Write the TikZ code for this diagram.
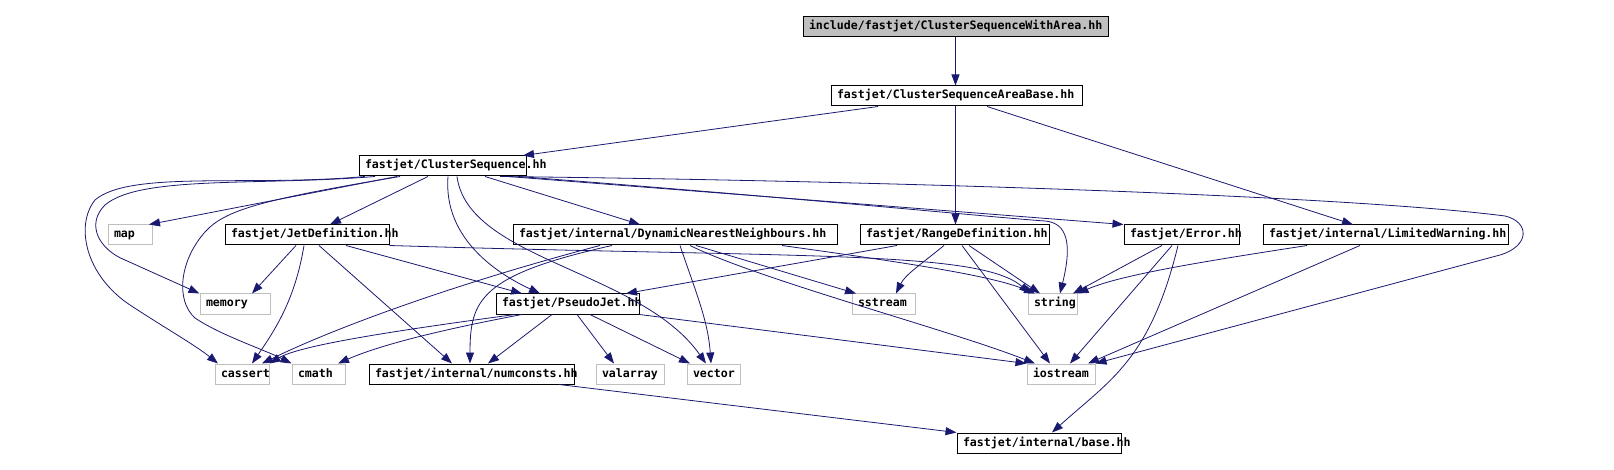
\documentclass[tikz,border=0pt]{standalone}
\usepackage{fontspec}
\usetikzlibrary{arrows.meta}
\newfontfamily\fjmono{DejaVu Sans Mono}
\definecolor{edgeblue}{HTML}{191970}
\definecolor{sysgray}{HTML}{BFBFBF}
\newcommand\fjbox[5]{\node[#1, minimum width=#3pt] (#2) at (#4) {\makebox[\dimexpr#3pt-12pt\relax][l]{#5}};}
\tikzset{
  fj/.style={draw=black, line width=1pt, minimum height=20pt, inner xsep=6pt, inner ysep=0pt,
    text height=8.5pt, text depth=2.5pt, font=\fjmono\bfseries\fontsize{11.6pt}{13pt}\selectfont, anchor=center},
  sys/.style={fj, draw=sysgray},
  root/.style={fj, fill=sysgray},
  dep/.style={draw=edgeblue, line width=0.8pt, -{Triangle[length=11pt,width=8pt]}},
}
\begin{document}
\begin{tikzpicture}[x=1pt,y=-1pt]
\useasboundingbox (0,0) rectangle (1614,470);
% nodes
\fjbox{root}{top}{305}{955.5,27}{include/fastjet/ClusterSequenceWithArea.hh}
\fjbox{fj}{ab}{251}{956.5,96}{fastjet/ClusterSequenceAreaBase.hh}
\fjbox{fj}{cs}{167}{442.5,166}{fastjet/ClusterSequence.hh}
\fjbox{sys}{map}{44}{130,235}{map}
\fjbox{fj}{jd}{164}{307,235}{fastjet/JetDefinition.hh}
\fjbox{fj}{dnn}{324}{675,235}{fastjet/internal/DynamicNearestNeighbours.hh}
\fjbox{fj}{rd}{189}{954.5,235}{fastjet/RangeDefinition.hh}
\fjbox{fj}{err}{115}{1181.5,235}{fastjet/Error.hh}
\fjbox{fj}{lw}{245}{1385.5,235}{fastjet/internal/LimitedWarning.hh}
\fjbox{sys}{mem}{70}{235,304}{memory}
\fjbox{fj}{pj}{143}{567.5,304}{fastjet/PseudoJet.hh}
\fjbox{sys}{ss}{63}{883.5,304}{sstream}
\fjbox{sys}{str}{49}{1052.5,304}{string}
\fjbox{sys}{cas}{54}{242,374}{cassert}
\fjbox{sys}{cm}{53}{318.5,374}{cmath}
\fjbox{fj}{nc}{205}{471.5,374}{fastjet/internal/numconsts.hh}
\fjbox{sys}{va}{68}{630,374}{valarray}
\fjbox{sys}{vec}{53}{713.5,374}{vector}
\fjbox{sys}{ios}{68}{1061,374}{iostream}
\fjbox{fj}{base}{164}{1039,443}{fastjet/internal/base.hh}
% edges
\draw[dep] (top.south -| 955.5,0) -- (ab.north -| 955.5,0);
\draw[dep] (ab.south -| 878,0) -- (cs.north -| 523,0);
\draw[dep] (ab.south -| 955.5,0) -- (rd.north -| 955.5,0);
\draw[dep] (ab.south -| 987,0) -- (lw.north -| 1353,0);
% ClusterSequence
\draw[dep] (cs.south -| 397,0) -- (map.north -| 149,0);
\draw[dep] (cs.south -| 428,0) -- (jd.north -| 330,0);
\draw[dep] (cs.south -| 485,0) -- (dnn.north -| 640,0);
\draw[dep] (cs.south -| 508,0) -- (err.north west);
\draw[dep] (cs.south -| 518,0) .. controls (800,198) and (1000,218) .. (1045,221) .. controls (1068,223) and (1072,245) .. (str.north -| 1060,0);
\draw[dep] (cs.south -| 500,0) .. controls (900,181) and (1350,196) .. (1505,216) .. controls (1530,222) and (1530,246) .. (1500,255) -- (ios.north east);
\draw[dep] (cs.south -| 457,0) .. controls (468,260) and (640,270) .. (vec.north -| 706,0);
\draw[dep] (cs.south -| 448,0) .. controls (443,240) and (500,275) .. (pj.north -| 540,0);
\draw[dep] (cs.south -| 375,0) .. controls (260,186) and (140,175) .. (105,205) .. controls (85,225) and (100,250) .. (125,260) -- (mem.north west);
\draw[dep] (cs.south -| 365,0) .. controls (250,187) and (130,170) .. (95,200) .. controls (75,225) and (85,275) .. (130,305) .. controls (165,328) and (195,345) .. (cas.north -| 218,0);
\draw[dep] (cs.south -| 400,0) .. controls (260,200) and (225,210) .. (205,232) .. controls (180,260) and (175,300) .. (195,318) .. controls (220,335) and (265,350) .. (cm.north west);
% JetDefinition
\draw[dep] (jd.south -| 296,0) -- (mem.north -| 252,0);
\draw[dep] (jd.south -| 304,0) .. controls (295,300) and (275,330) .. (cas.north -| 252,0);
\draw[dep] (jd.south -| 319,0) -- (nc.north -| 452,0);
\draw[dep] (jd.south -| 346,0) -- (pj.north -| 522,0);
\draw[dep] (jd.south east) .. controls (800,258) and (980,250) .. (str.north -| 1030,0);
% DynamicNearestNeighbours
\draw[dep] (dnn.south -| 600,0) .. controls (450,285) and (330,330) .. (cas.north -| 262,0);
\draw[dep] (dnn.south -| 612,0) .. controls (480,275) and (470,300) .. (nc.north -| 470,0);
\draw[dep] (dnn.south -| 680,0) .. controls (695,290) and (708,320) .. (vec.north -| 711,0);
\draw[dep] (dnn.south -| 696,0) -- (ss.north -| 856,0);
\draw[dep] (dnn.south -| 690,0) .. controls (760,280) and (950,330) .. (ios.north -| 1035,0);
\draw[dep] (dnn.south -| 782,0) .. controls (900,262) and (990,275) .. (str.north -| 1035,0);
% RangeDefinition
\draw[dep] (rd.south -| 897,0) -- (pj.north -| 626,0);
\draw[dep] (rd.south -| 944,0) .. controls (920,265) and (905,275) .. (ss.north -| 896,0);
\draw[dep] (rd.south -| 969,0) -- (str.north -| 1040,0);
\draw[dep] (rd.south -| 962,0) -- (ios.north -| 1050,0);
% Error
\draw[dep] (err.south -| 1162,0) -- (str.north -| 1073,0);
\draw[dep] (err.south -| 1172,0) -- (ios.north -| 1070,0);
\draw[dep] (err.south -| 1178,0) .. controls (1150,360) and (1110,380) .. (base.north -| 1052,0);
% LimitedWarning
\draw[dep] (lw.south -| 1307,0) .. controls (1200,262) and (1120,275) .. (str.north east);
\draw[dep] (lw.south -| 1360,0) -- (ios.north -| 1088,0);
% PseudoJet
\draw[dep] (pj.south -| 515,0) .. controls (400,330) and (300,345) .. (cas.north east);
\draw[dep] (pj.south -| 522,0) .. controls (440,330) and (380,345) .. (cm.north -| 338,0);
\draw[dep] (pj.south -| 552,0) -- (nc.north -| 488,0);
\draw[dep] (pj.south -| 577,0) -- (va.north -| 614,0);
\draw[dep] (pj.south -| 590,0) -- (vec.north -| 690,0);
\draw[dep] (pj.south east) -- (ios.north west);
% numconsts
\draw[dep] (nc.south -| 559,0) -- (base.north west);
\end{tikzpicture}
\end{document}
